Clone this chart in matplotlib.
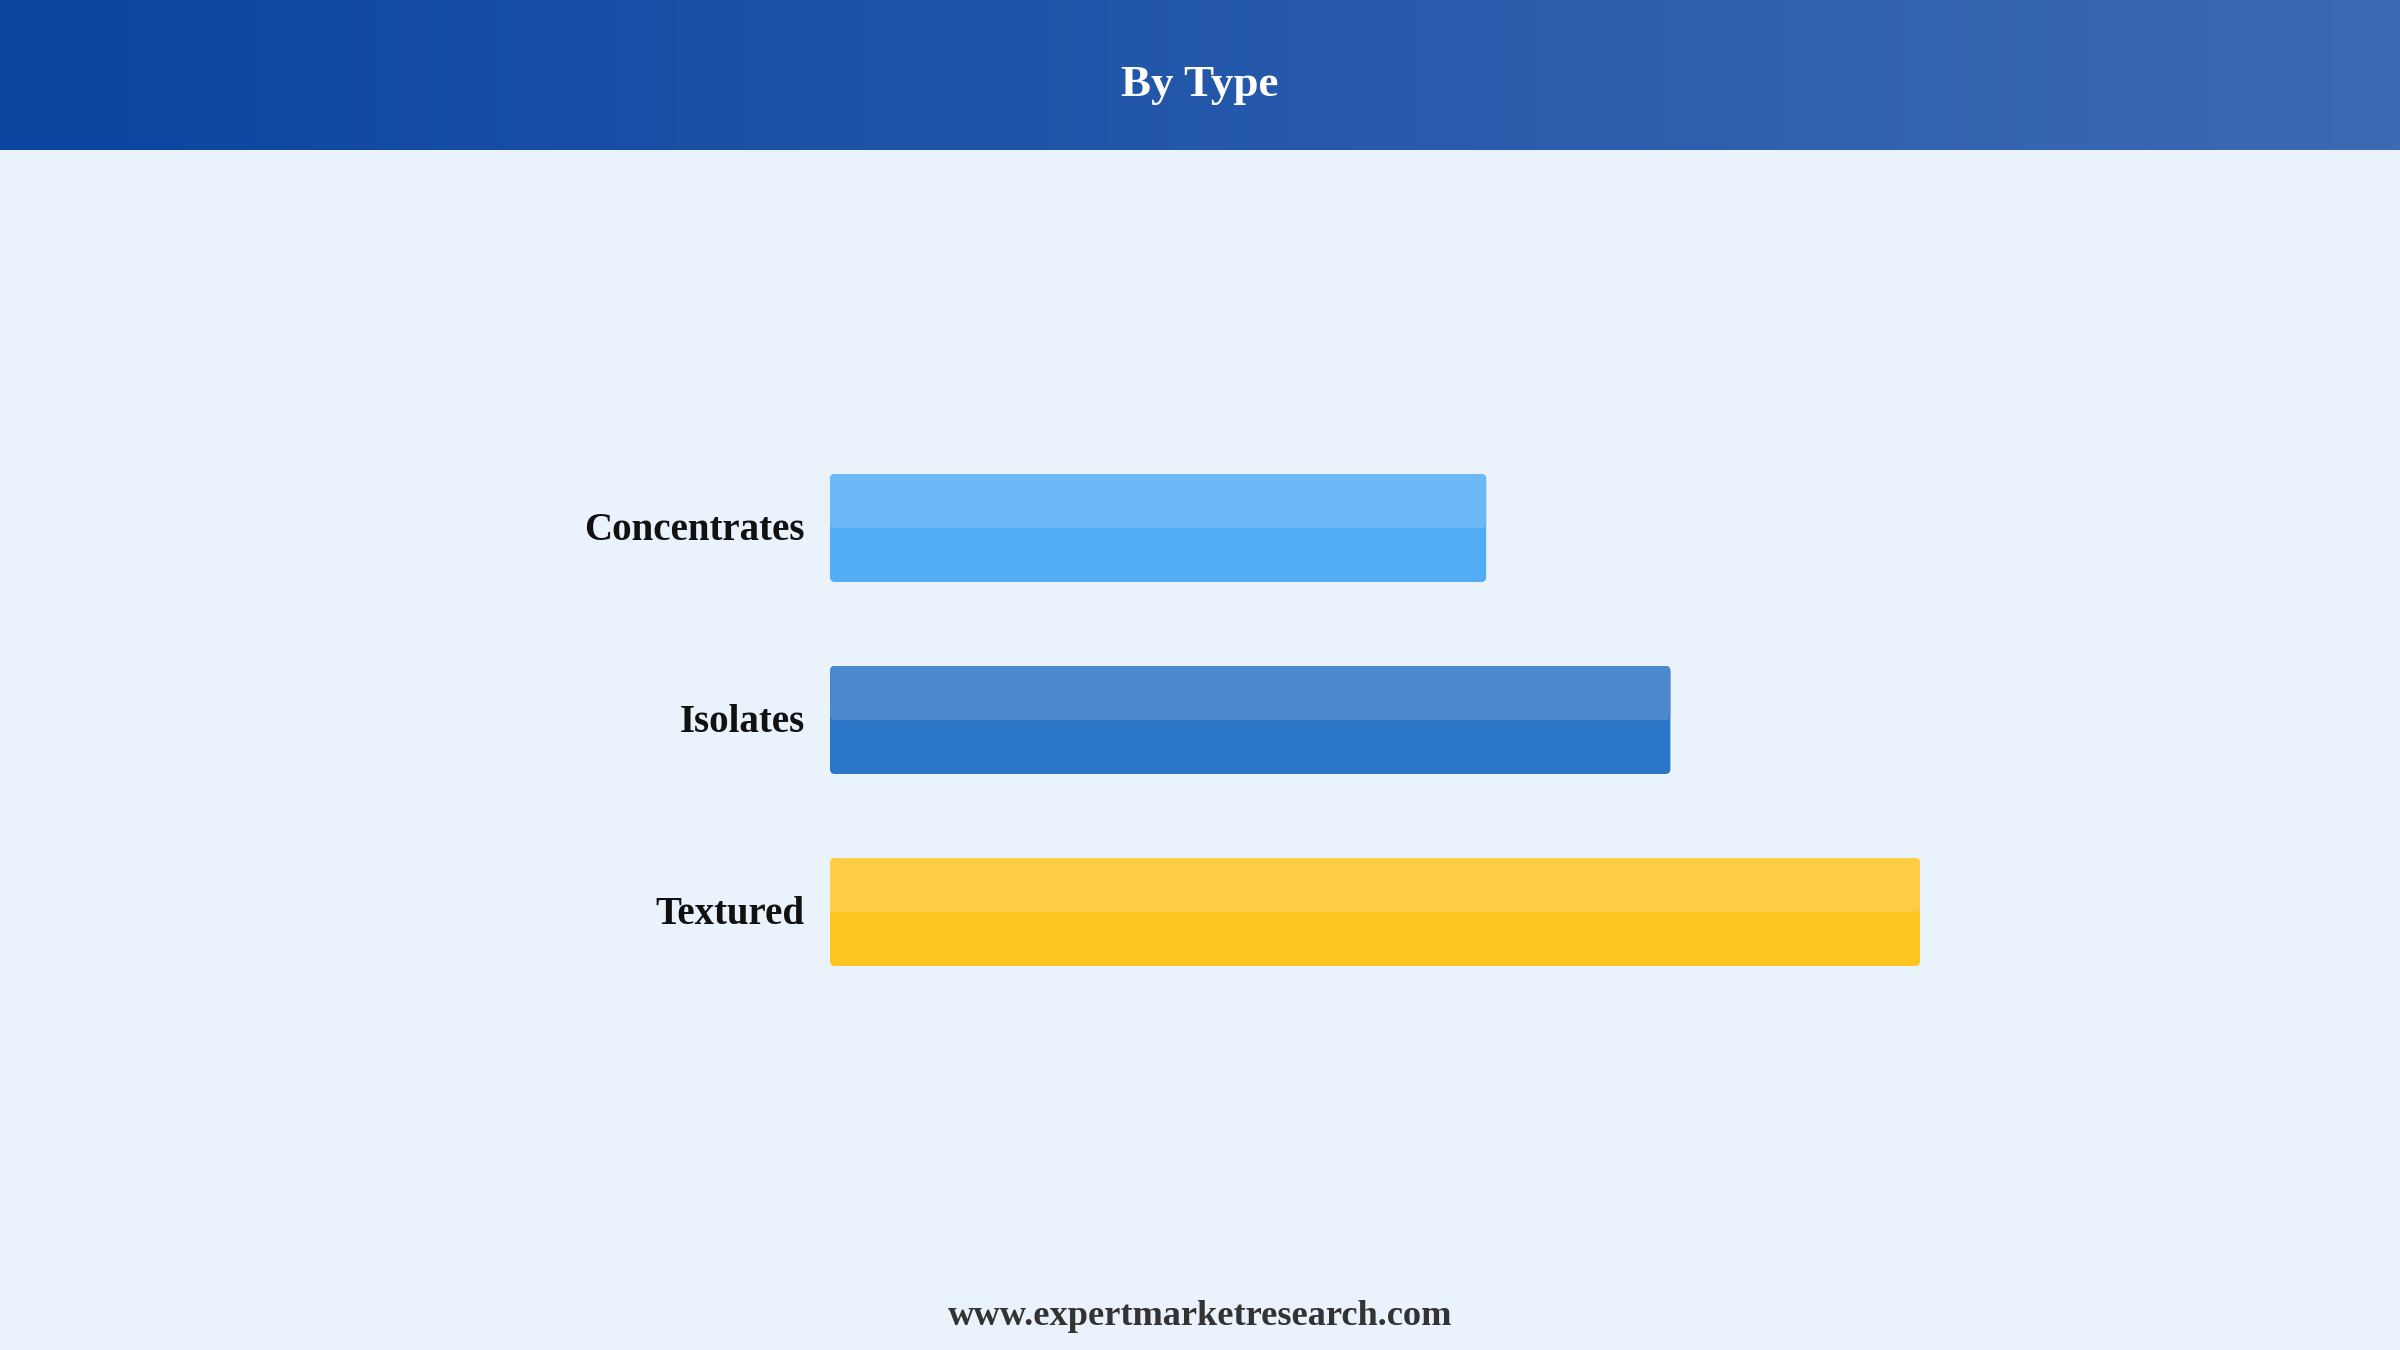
import numpy as np
import matplotlib.pyplot as plt
from matplotlib.patches import FancyBboxPatch
from matplotlib.colors import LinearSegmentedColormap

categories = ['Concentrates', 'Isolates', 'Textured']
values = [60.2, 77.1, 100.0]
colors_top = ['#6CB7F6', '#4C88CD', '#FDCE45']
colors_btm = ['#52ADF4', '#2B75C6', '#FCC51F']

W, H = 2400, 1350
bg = '#EAF2FC'

fig = plt.figure(figsize=(W / 100, H / 100), dpi=100, facecolor=bg)

# header band with horizontal gradient
hdr = fig.add_axes([0, 1 - 150 / H, 1, 150 / H])
cmap = LinearSegmentedColormap.from_list('hdr', ['#0C44A0', '#3C6BB4'])
hdr.imshow(np.linspace(0, 1, 256).reshape(1, -1), aspect='auto', cmap=cmap,
           extent=[0, 1, 0, 1])
hdr.set_axis_off()
fig.text(0.5, 1 - 96 / H, 'By Type', color='white', fontsize=32.5,
         fontweight='bold', family='Liberation Serif', ha='center', va='baseline')

# bar area: x from 830px to 1920px, rows 192px apart
ax = fig.add_axes([830 / W, 1 - 1008 / H, 1090 / W, 576 / H])
ax.set_facecolor(bg)
ax.set_xlim(0, 100)
ax.set_ylim(2.5, -0.5)

px_x = 1090 / 100
px_y = 192
bh = 108 / 192
r = 5 / px_x
asp = px_x / px_y

for i, (v, ct, cb) in enumerate(zip(values, colors_top, colors_btm)):
    base = FancyBboxPatch((0, i - bh / 2), v, bh,
                          boxstyle='round,pad=0,rounding_size=%f' % r,
                          mutation_aspect=asp, fc=cb, ec='none')
    ax.add_patch(base)
    top = FancyBboxPatch((0, i - bh / 2), v, bh / 2,
                         boxstyle='round,pad=0,rounding_size=%f' % r,
                         mutation_aspect=asp, fc=ct, ec='none')
    ax.add_patch(top)

ax.set_yticks([i - 0.008 for i in range(len(categories))])
ax.set_yticklabels(categories, fontsize=28, fontweight='bold',
                   family='Liberation Serif', color='#111111')
ax.tick_params(axis='y', length=0, pad=18)
ax.set_xticks([])
for s in ax.spines.values():
    s.set_visible(False)

fig.text(0.5, 1 - 1325 / H, 'www.expertmarketresearch.com', color='#333333',
         fontsize=26.2, fontweight='bold', family='Liberation Serif',
         ha='center', va='baseline')

fig.savefig('out.png', dpi=100, facecolor=bg)
